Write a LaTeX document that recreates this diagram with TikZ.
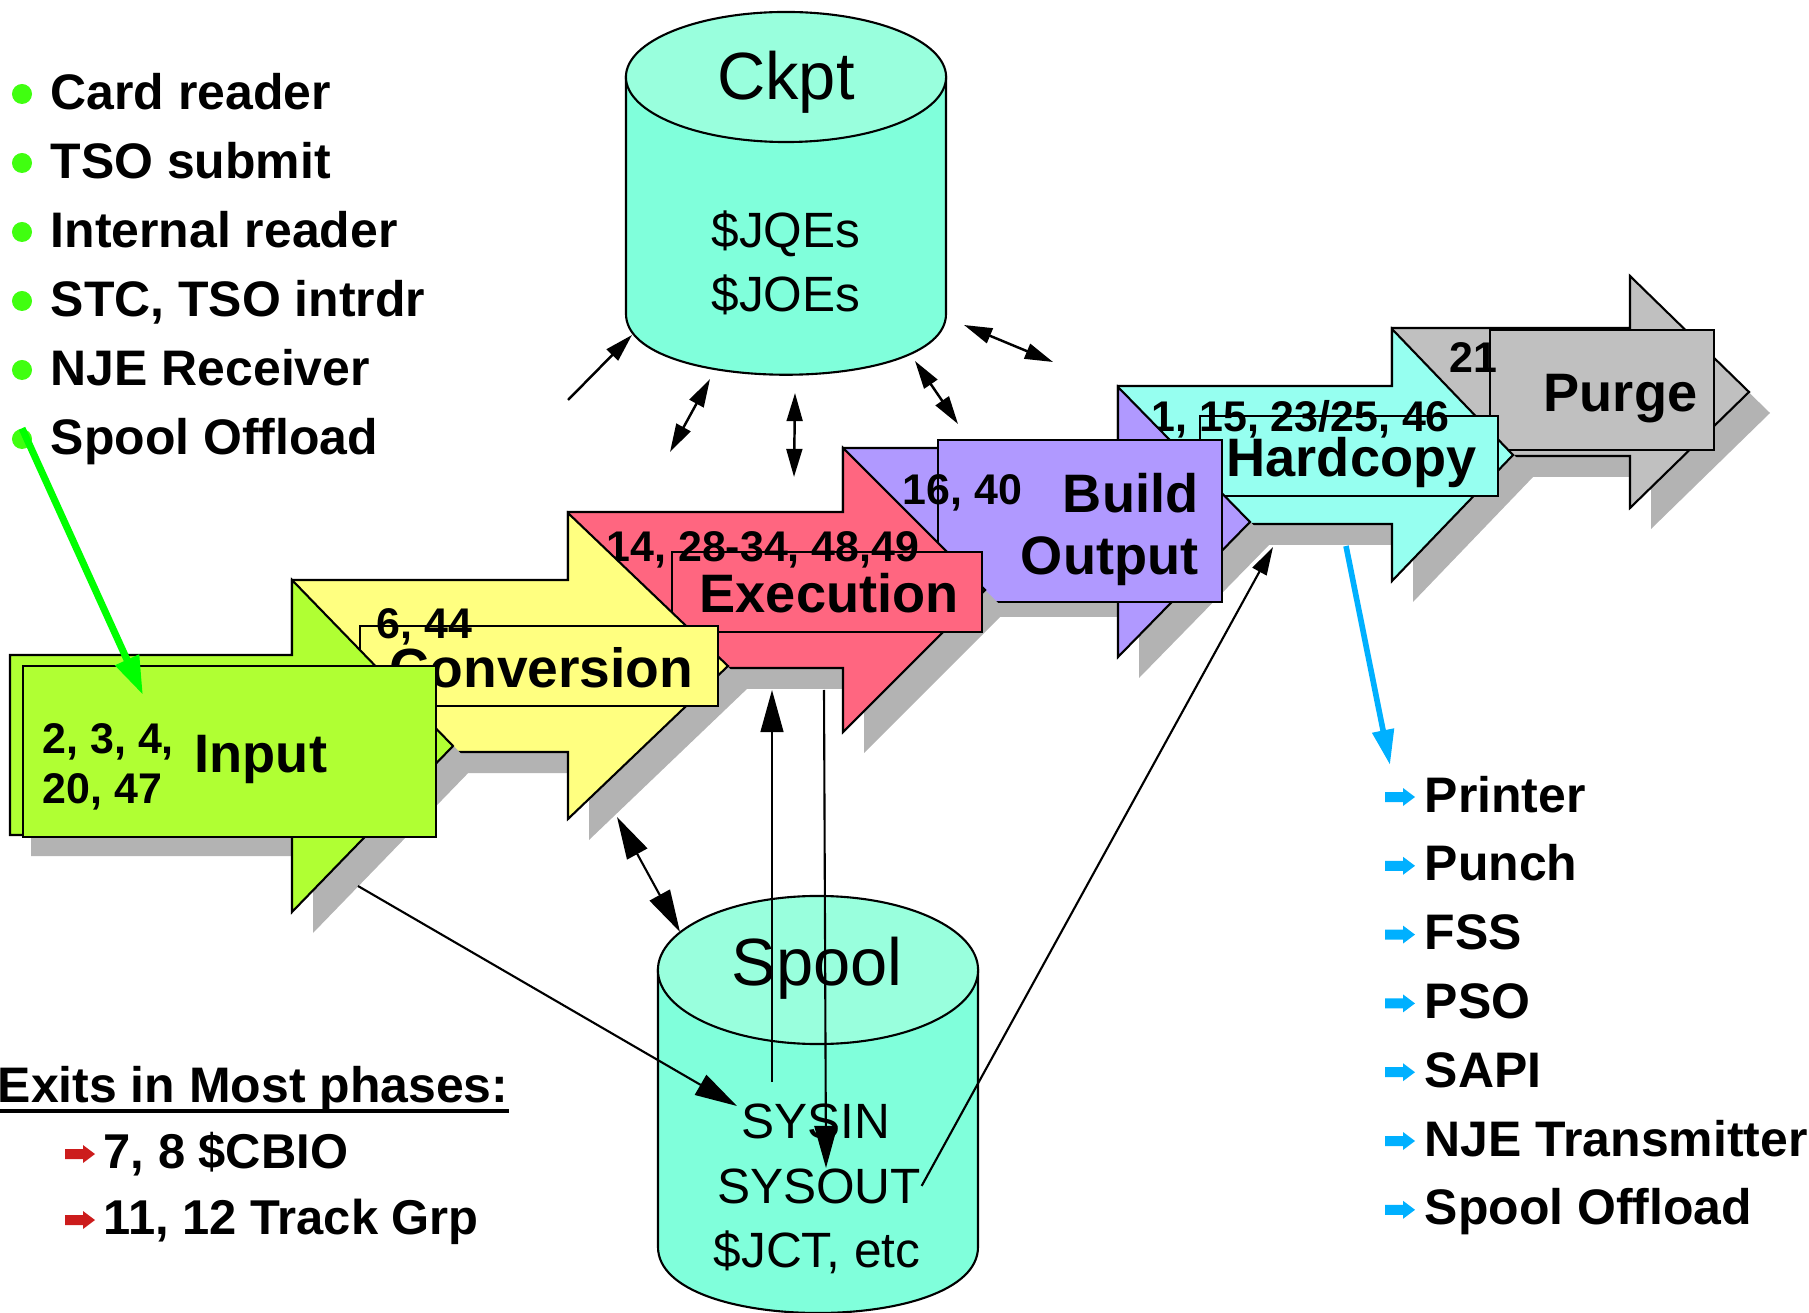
\documentclass[tikz,border=0pt]{standalone}
\usepackage{fontspec}
\setmainfont{Liberation Sans}
\usetikzlibrary{arrows.meta, positioning}

\definecolor{inputgreen}{RGB}{176,255,51}
\definecolor{convyellow}{RGB}{255,255,128}
\definecolor{execred}{RGB}{255,102,128}
\definecolor{buildpurple}{RGB}{176,153,255}
\definecolor{hardcyan}{RGB}{150,255,240}
\definecolor{purgegray}{RGB}{192,192,192}
\definecolor{shadowgray}{RGB}{179,179,179}
\definecolor{dasdbody}{RGB}{128,255,219}
\definecolor{dasdtop}{RGB}{153,255,221}
\definecolor{srcgreen}{RGB}{64,255,16}
\definecolor{linkgreen}{RGB}{0,255,0}
\definecolor{outblue}{RGB}{0,176,255}
\definecolor{exitred}{RGB}{204,28,28}

\tikzset{
    phaseline/.style={draw=black, line width=0.6pt},
    numtext/.style={font=\bfseries\fontsize{12.2pt}{14pt}\selectfont,
        anchor=base west, inner sep=0pt},
    phasetext/.style={font=\bfseries\fontsize{15.4pt}{18pt}\selectfont,
        anchor=base west, inner sep=0pt},
    listtext/.style={font=\bfseries\fontsize{14.2pt}{16pt}\selectfont,
        anchor=base west, inner sep=0pt},
    dasdtitle/.style={font=\fontsize{19pt}{22pt}\selectfont,
        anchor=base, inner sep=0pt},
    dasdtext/.style={font=\fontsize{14.1pt}{16pt}\selectfont,
        anchor=base, inner sep=0pt},
    srcdot/.style={circle, fill=srcgreen, inner sep=0pt, minimum size=0.2cm},
    tiplink/.style={>={Triangle[length=8pt, width=4.5pt]}, line width=0.7pt},
    biglink/.style={>={Triangle[length=12pt, width=6.5pt]}, line width=0.6pt},
    bularrow/.pic={
        \fill (0,-5) -- (18,-5) -- (18,-9) -- (30,0) -- (18,9) -- (18,5)
            -- (0,5) -- cycle;
    },
}

% block arrow of one phase with its shadow
\newcommand{\phasearrow}[9]{%
    \fill[shadowgray, shift={(21,21)}] (#2,#3) -- (#5,#3) -- (#5,#6)
        -- (#8,#9) -- (#5,#7) -- (#5,#4) -- (#2,#4) -- cycle;
    \filldraw[fill=#1, phaseline] (#2,#3) -- (#5,#3) -- (#5,#6)
        -- (#8,#9) -- (#5,#7) -- (#5,#4) -- (#2,#4) -- cycle;
}

\begin{document}
\begin{tikzpicture}[x=0.01cm, y=-0.01cm]
    \useasboundingbox (0,0) rectangle (1809,1313);

    % checkpoint data set
    \filldraw[fill=dasdbody, phaseline] (626,77) -- (626,314)
        .. controls (626,395) and (946,395) .. (946,314) -- (946,77) -- cycle;
    \filldraw[fill=dasdtop, phaseline] (786,77)
        ellipse [x radius=1.6cm, y radius=0.65cm];
    \node[dasdtitle] (ckpt) at (786,100) {Ckpt};
    \node[dasdtext] (jqes) at (786,248) {\$JQEs};
    \node[dasdtext] (joes) at (786,312) {\$JOEs};

    % spool data set
    \filldraw[fill=dasdbody, phaseline] (658,970) -- (658,1247)
        .. controls (658,1335) and (978,1335) .. (978,1247) -- (978,970) -- cycle;
    \filldraw[fill=dasdtop, phaseline] (818,970)
        ellipse [x radius=1.6cm, y radius=0.74cm];
    \node[dasdtitle] (spool) at (817,985) {Spool};
    \node[dasdtext] (sysin) at (816,1138) {SYSIN};
    \node[dasdtext] (sysout) at (819,1203) {SYSOUT};
    \node[dasdtext] (jct) at (817,1267) {\$JCT, etc};

    % phases, back to front
    \phasearrow{purgegray}{1392}{328}{456}{1630}{276}{508}{1749}{392}
    \filldraw[fill=purgegray, phaseline] (1490,330) rectangle (1714,450);
    \node[numtext] (purgeno) at (1449,373) {21};
    \node[phasetext] (purge) at (1543,412) {Purge};

    \phasearrow{hardcyan}{1118}{386}{524}{1392}{329}{581}{1513}{455}
    \filldraw[fill=hardcyan, phaseline] (1200,416) rectangle (1498,496);
    \node[numtext] (hardno) at (1151,432) {1, 15, 23/25, 46};
    \node[phasetext] (hard) at (1226,477) {Hardcopy};

    \phasearrow{buildpurple}{843}{448}{596}{1118}{387}{657}{1250}{522}
    \filldraw[fill=buildpurple, phaseline] (938,440) rectangle (1222,602);
    \node[numtext] (buildno) at (902,505) {16, 40};
    \node[phasetext, anchor=base east] (build) at (1199,513) {Build};
    \node[phasetext, anchor=base east] (output) at (1199,575) {Output};

    \phasearrow{execred}{568}{512}{668}{843}{448}{732}{985}{590}
    \filldraw[fill=execred, phaseline] (672,552) rectangle (982,632);
    \node[numtext] (execno) at (606,562) {14, 28-34, 48,49};
    \node[phasetext] (exec) at (699,613) {Execution};

    \phasearrow{convyellow}{292}{580}{752}{568}{513}{819}{728}{666}
    \filldraw[fill=convyellow, phaseline] (360,626) rectangle (718,706);
    \node[numtext] (convno) at (376,639) {6, 44};
    \node[phasetext, font=\bfseries\fontsize{15.7pt}{18pt}\selectfont]
        (conv) at (389,688) {Conversion};

    \phasearrow{inputgreen}{10}{655}{835}{292}{580}{912}{453}{746}
    \filldraw[fill=inputgreen, phaseline] (23,666) rectangle (436,837);
    \node[numtext] (inno1) at (42,754) {2, 3, 4,};
    \node[numtext] (inno2) at (42,804) {20, 47};
    \node[phasetext] (input) at (194,773) {Input};

    % links to the checkpoint
    \coordinate (cka1) at (568,400);
    \coordinate (ckb1) at (632,335);
    \draw[tiplink, ->] (cka1) -- (ckb1);
    \foreach \i/\ax/\ay/\bx/\by in {2/670/452/710/379, 3/794/477/795/393,
        4/958/424/915/361, 5/964/325/1053/362}{
        \coordinate (cka\i) at (\ax,\ay);
        \coordinate (ckb\i) at (\bx,\by);
        \draw[tiplink, <->] (cka\i) -- (ckb\i);
    }

    % links to the spool
    \coordinate (convlo) at (617,817);
    \coordinate (spooltop) at (680,932);
    \draw[biglink, <->] (convlo) -- (spooltop);
    \coordinate (inputlo) at (358,886);
    \coordinate (sysinin) at (737,1106);
    \draw[biglink, ->] (inputlo) -- (sysinin);
    \coordinate (sysintop) at (772,1082);
    \coordinate (execup) at (772,690);
    \draw[biglink, ->] (sysintop) -- (execup);
    \coordinate (execdown) at (824,690);
    \coordinate (sysoutin) at (826,1168);
    \draw[biglink, ->] (execdown) -- (sysoutin);
    \coordinate (hardlo) at (1273,547);
    \draw[tiplink, ->, line width=0.6pt] (sysout.east) -- (hardlo);

    % job sources
    \foreach \lbl [count=\i] in {Card reader, TSO submit, Internal reader,
        {STC, TSO intrdr}, NJE Receiver, Spool Offload}{
        \node[srcdot] (dot\i) at (22,25+69*\i) {};
        \node[listtext] (src\i) at (50,41+69*\i) {\lbl};
    }

    % output destinations
    \foreach \lbl [count=\i] in {Printer, Punch, FSS, PSO, SAPI,
        NJE Transmitter, Spool Offload}{
        \pic[color=outblue] at (1385,728.2+68.8*\i) {bularrow};
        \node[listtext] (dest\i) at (1424,743.2+68.8*\i) {\lbl};
    }

    % exits
    \node[listtext] (exits) at (-3,1102) {Exits in Most phases:};
    \draw[line width=1.4pt] ([yshift=-0.09cm]exits.base west)
        -- ([yshift=-0.09cm]exits.base east);
    \foreach \lbl [count=\i] in {{7, 8 \$CBIO}, {11, 12 Track Grp}}{
        \pic[color=exitred] at (65,1088+66*\i) {bularrow};
        \node[listtext, font=\bfseries\fontsize{13.9pt}{16pt}\selectfont]
            (exit\i) at (103,1102+66*\i) {\lbl};
    }

    % input and output arrows
    \coordinate (inputhit) at (143,695);
    \draw[linkgreen, line width=2pt, -{Triangle[length=11pt, width=7pt]}]
        (dot6.north) -- (inputhit);
    \coordinate (hardout) at (1346,546);
    \coordinate (destin) at (1390,765);
    \draw[outblue, line width=1.6pt, -{Triangle[length=10pt, width=6pt]}]
        (hardout) -- (destin);
\end{tikzpicture}
\end{document}
